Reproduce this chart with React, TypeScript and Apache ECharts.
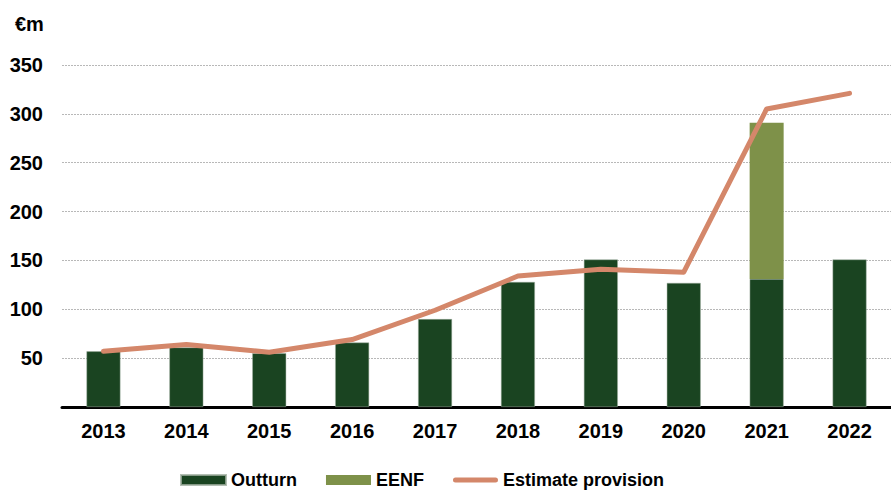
import React, { useEffect, useRef } from "react";
import * as echarts from "echarts";

const categories = ["2013", "2014", "2015", "2016", "2017", "2018", "2019", "2020", "2021", "2022"];
const outturn = [57, 61, 55, 66, 90, 128, 151, 127, 131, 151];
const eenf = [null, null, null, null, null, null, null, null, 160, null];
const estimateProvision = [57, 64, 56, 69, 99, 134, 141, 138, 305, 321];
const yTicks = { min: 0, max: 350, interval: 50 };

const FONT = "'Liberation Sans', Arial, sans-serif";
const LINE_ICON =
  "path://M0,0M45,10M2.5,2.5L42.5,2.5A2.5,2.5,0,0,1,42.5,7.5L2.5,7.5A2.5,2.5,0,0,1,2.5,2.5Z";

export default function App() {
  const ref = useRef<HTMLDivElement>(null);
  useEffect(() => {
    if (!ref.current) return;
    const chart = echarts.init(ref.current, null, { renderer: "svg" });
    chart.setOption({
      animation: false,
      textStyle: { fontFamily: FONT },
      grid: { left: 62, right: -11, top: 65, bottom: 83, containLabel: false },
      graphic: [
        {
          type: "text",
          left: 15,
          top: 14,
          style: { text: "€m", font: `bold 20px ${FONT}`, fill: "#000" },
        },
      ],
      legend: {
        left: 180,
        top: 471,
        padding: 0,
        itemWidth: 45,
        itemHeight: 10,
        itemGap: 29,
        textStyle: { fontSize: 18, fontWeight: "bold", color: "#000", fontFamily: FONT },
        data: [
          { name: "Outturn", icon: "rect" },
          { name: "EENF", icon: "rect" },
          { name: "Estimate provision", icon: LINE_ICON, itemStyle: { color: "#d4876a" } },
        ],
      },
      xAxis: {
        type: "category",
        data: categories,
        axisLine: { lineStyle: { color: "#000", width: 3 } },
        axisTick: { show: false },
        axisLabel: { fontSize: 20, fontWeight: "bold", color: "#000", margin: 14, fontFamily: FONT },
      },
      yAxis: {
        type: "value",
        min: yTicks.min,
        max: yTicks.max,
        interval: yTicks.interval,
        axisLine: { show: false },
        axisTick: { show: false },
        axisLabel: {
          fontSize: 20,
          fontWeight: "bold",
          color: "#000",
          margin: 19,
          fontFamily: FONT,
          formatter: (v: number) => (v === 0 ? "" : String(v)),
        },
        splitLine: { lineStyle: { color: "#b8b8b8", type: [2, 1], width: 1 } },
      },
      series: [
        {
          name: "Outturn",
          type: "bar",
          stack: "a",
          barWidth: 34,
          data: outturn,
          itemStyle: { color: "#1a4421", borderColor: "rgba(160,175,160,0.8)", borderWidth: 0.6 },
        },
        {
          name: "EENF",
          type: "bar",
          stack: "a",
          barWidth: 34,
          data: eenf,
          itemStyle: { color: "#7e9149" },
        },
        {
          name: "Estimate provision",
          type: "line",
          data: estimateProvision,
          symbol: "none",
          lineStyle: { color: "#d4876a", width: 5, cap: "round", join: "round" },
          itemStyle: { color: "#d4876a" },
          z: 5,
        },
      ],
    });
    return () => chart.dispose();
  }, []);
  return <div ref={ref} style={{ position: "absolute", left: 0, top: 0, width: 891, height: 490 }} />;
}
